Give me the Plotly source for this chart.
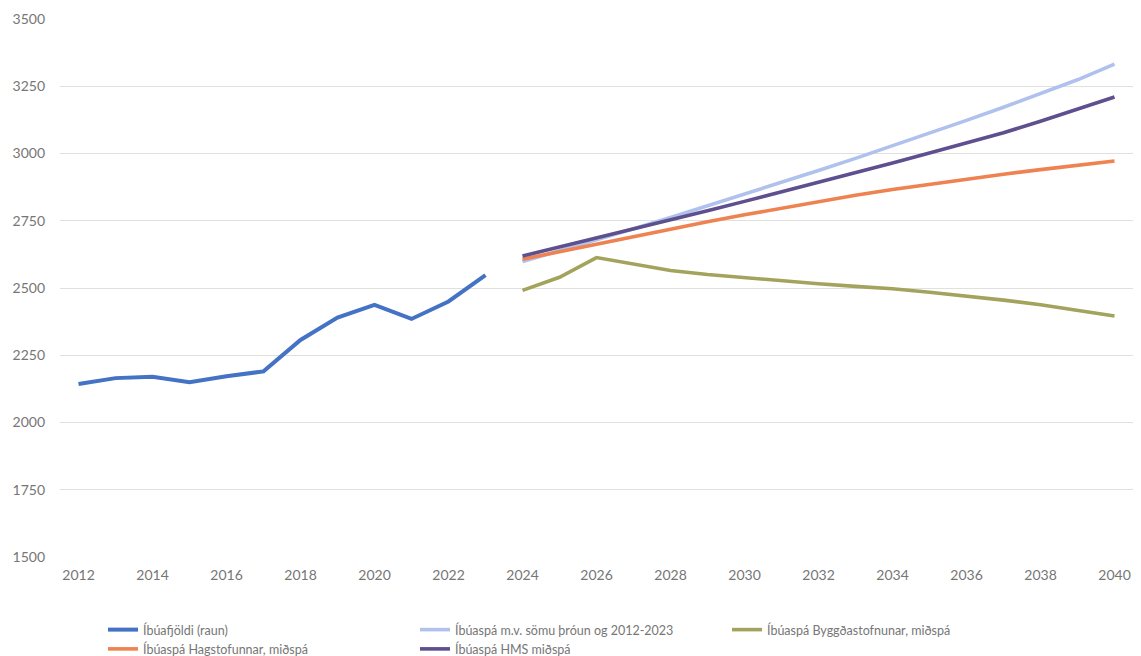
import plotly.graph_objects as go

years_actual = [2012, 2013, 2014, 2015, 2016, 2017, 2018, 2019, 2020, 2021, 2022, 2023]
pop_actual = [2143, 2165, 2170, 2150, 2172, 2190, 2307, 2390, 2437, 2385, 2450, 2548]

years_fc = list(range(2024, 2041))
trend_2012_2023 = [2598, 2638, 2679, 2720, 2762, 2805, 2848, 2892, 2937, 2982, 3028, 3075, 3123, 3172, 3222, 3274, 3332]
byggdastofnun = [2491, 2540, 2613, 2588, 2565, 2550, 2538, 2527, 2516, 2506, 2497, 2484, 2470, 2455, 2438, 2418, 2396]
hagstofan = [2607, 2635, 2663, 2692, 2720, 2746, 2772, 2797, 2822, 2845, 2866, 2886, 2905, 2923, 2940, 2957, 2972]
hms = [2619, 2652, 2685, 2718, 2752, 2787, 2822, 2857, 2893, 2929, 2965, 3002, 3038, 3077, 3120, 3164, 3210]

names = [
    "Íbúafjöldi (raun)",
    "Íbúaspá m.v. sömu þróun og 2012-2023",
    "Íbúaspá Byggðastofnunar, miðspá",
    "Íbúaspá Hagstofunnar, miðspá",
    "Íbúaspá HMS miðspá",
]
colors = ["#4472C4", "#AFC1EC", "#A3A35E", "#EE8250", "#5E4F8E"]

y_ticks = [1500, 1750, 2000, 2250, 2500, 2750, 3000, 3250, 3500]
x_ticks = list(range(2012, 2041, 2))

FONT = "Lato, 'Open Sans', sans-serif"
TXT = "#767676"

fig = go.Figure()
series = [
    (years_actual, pop_actual),
    (years_fc, trend_2012_2023),
    (years_fc, byggdastofnun),
    (years_fc, hagstofan),
    (years_fc, hms),
]
for i, (xs, ys) in enumerate(series):
    fig.add_trace(go.Scatter(
        x=xs, y=ys, mode="lines", name=names[i],
        line=dict(color=colors[i], width=4 if i == 0 else 3.6),
    ))

fig.update_layout(
    width=1141, height=656,
    margin=dict(l=60, r=8, t=19, b=99),
    paper_bgcolor="white", plot_bgcolor="white",
    font=dict(family=FONT, size=14, color=TXT),
    showlegend=True,
    legend=dict(
        orientation="h", xref="container", yref="container",
        x=103 / 1141, y=1 - 615 / 656, xanchor="left", yanchor="top",
        bgcolor="rgba(0,0,0,0)", entrywidth=267, entrywidthmode="pixels",
        font=dict(family=FONT, size=12.5, color=TXT),
        traceorder="normal", itemwidth=30,
    ),
    xaxis=dict(
        range=[2011.5, 2040.5], tickvals=x_ticks, ticktext=[str(v) for v in x_ticks],
        showgrid=False, zeroline=False, showline=False, ticks="",
        ticklabelstandoff=8, tickfont=dict(family=FONT, size=14, color=TXT),
    ),
    yaxis=dict(
        range=[1500, 3500], tickvals=y_ticks, ticktext=[str(v) for v in y_ticks],
        showgrid=True, gridcolor="#E0E0E0", gridwidth=1, zeroline=False,
        showline=False, ticks="", ticklabelstandoff=14,
        tickfont=dict(family=FONT, size=14, color=TXT),
    ),
)

fig.write_html("out.html")
